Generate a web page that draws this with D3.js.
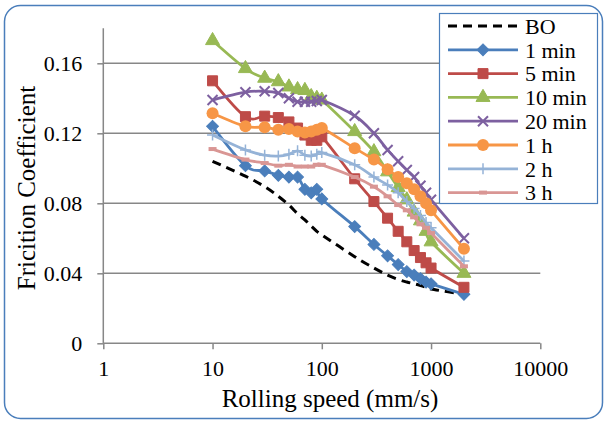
<!DOCTYPE html>
<html>
<head>
<meta charset="utf-8">
<script src="https://cdn.jsdelivr.net/npm/d3@7"></script>
<style>
  html, body { margin: 0; padding: 0; background: #fff; }
  svg { display: block; }
  text { font-family: "Liberation Serif", "Times New Roman", serif; fill: #000; }
</style>
</head>
<body>
<svg id="chart" width="606" height="423"></svg>
<script>
// ---------- data ----------
const speeds = [10,20,30,40,50,60,70,80,90,100,200,300,400,500,600,700,800,900,1000,2000];
const bo    = [0.104,0.0955,0.0895,0.084,0.079,0.074,0.0705,0.067,0.064,0.062,0.0495,0.043,0.039,0.0365,0.035,0.034,0.033,0.032,0.031,0.028];
const min1  = [0.124,0.1015,0.0985,0.096,0.095,0.095,0.088,0.086,0.088,0.0825,0.0667,0.0565,0.050,0.045,0.041,0.039,0.037,0.035,0.034,0.028];
const min5  = [0.150,0.1295,0.1298,0.129,0.1265,0.123,0.119,0.116,0.116,0.118,0.094,0.081,0.0715,0.064,0.058,0.053,0.049,0.046,0.043,0.032];
const min10 = [0.173,0.157,0.1515,0.1495,0.1465,0.145,0.1445,0.141,0.140,0.139,0.121,0.1095,0.098,0.089,0.082,0.075,0.070,0.064,0.058,0.040];
const min20 = [0.139,0.1435,0.144,0.143,0.140,0.138,0.138,0.138,0.1385,0.139,0.130,0.120,0.1105,0.104,0.099,0.095,0.090,0.086,0.082,0.060];
const h1    = [0.1315,0.124,0.1235,0.122,0.1225,0.121,0.1205,0.121,0.122,0.123,0.1115,0.105,0.0995,0.095,0.0915,0.088,0.084,0.080,0.076,0.054];
const h2    = [0.119,0.1105,0.1075,0.107,0.108,0.110,0.1075,0.107,0.108,0.109,0.102,0.095,0.0905,0.086,0.081,0.077,0.073,0.069,0.066,0.047];
const h3    = [0.111,0.105,0.103,0.1015,0.102,0.101,0.101,0.101,0.102,0.102,0.095,0.0895,0.084,0.079,0.076,0.072,0.068,0.066,0.063,0.044];

const seriesNames  = ["BO","1 min","5 min","10 min","20 min","1 h","2 h","3 h"];
const seriesValues = [bo, min1, min5, min10, min20, h1, h2, h3];
const seriesColors = ["#000000","#4A7EBB","#BE4B48","#98B954","#7D60A0","#F79646","#95B3D7","#D99694"];
const seriesMarkers = ["none","diamond","square","triangle","x","circle","plus","dash"];

const xTicks = [1,10,100,1000,10000];
const yTicks = [0,0.04,0.08,0.12,0.16];

// ---------- layout ----------
const svg = d3.select("#chart");
const pLeft = 103.3, pRight = 540.3, pTop = 28.3, pBottom = 343.3;

const x = d3.scaleLog().domain([1,10000]).range([pLeft,pRight]);
const y = d3.scaleLinear().domain([0,0.18]).range([pBottom,pTop]);

// outer border
svg.append("rect")
  .attr("x",4.5).attr("y",5.5).attr("width",598).attr("height",413)
  .attr("rx",16).attr("ry",16)
  .attr("fill","#fff").attr("stroke","#4A7EBB").attr("stroke-width",1.5);

// gridlines
svg.append("g").selectAll("line")
  .data(yTicks.filter(d=>d>0)).join("line")
  .attr("x1",pLeft).attr("x2",pRight)
  .attr("y1",d=>y(d)).attr("y2",d=>y(d))
  .attr("stroke","#878787").attr("stroke-width",1.5);

// axes
const gx = svg.append("g").attr("transform",`translate(0,${pBottom})`)
  .call(d3.axisBottom(x).tickValues(xTicks).tickFormat(d3.format("d")).tickSize(6).tickPadding(10));
const gy = svg.append("g").attr("transform",`translate(${pLeft},0)`)
  .call(d3.axisLeft(y).tickValues(yTicks).tickFormat(d=> d===0 ? "0" : d3.format(".2f")(d)).tickSize(6).tickPadding(15));
[gx,gy].forEach(g=>{
  g.select(".domain").attr("stroke","#878787").attr("stroke-width",1.5);
  g.selectAll(".tick line").attr("stroke","#878787").attr("stroke-width",1.5);
  g.selectAll(".tick text").attr("font-family","Liberation Serif").attr("font-size",22).attr("fill","#000");
});
gx.selectAll(".tick text").attr("dy","0.75em");
gy.select(".domain").attr("d",`M-0,${pTop}V${pBottom}`);
gx.select(".domain").attr("d",`M${pLeft},0H${pRight}`);

// axis titles
svg.append("text").attr("x",330).attr("y",407).attr("text-anchor","middle")
  .attr("font-size",25).text("Rolling speed (mm/s)");
svg.append("text").attr("transform","translate(35,188) rotate(-90)").attr("text-anchor","middle")
  .attr("font-size",25).text("Fricition Coefficient");

// markers
function drawMarker(g, type, color, cx, cy) {
  if (type === "diamond") {
    g.append("path").attr("d", d3.symbol(d3.symbolSquare, 70)())
      .attr("transform",`translate(${cx},${cy}) rotate(45)`).attr("fill",color).attr("stroke",color).attr("stroke-width",1);
  } else if (type === "square") {
    g.append("path").attr("d", d3.symbol(d3.symbolSquare, 100)())
      .attr("transform",`translate(${cx},${cy})`).attr("fill",color).attr("stroke",color).attr("stroke-width",1);
  } else if (type === "triangle") {
    g.append("path").attr("d", d3.symbol(d3.symbolTriangle, 85)())
      .attr("transform",`translate(${cx},${cy})`).attr("fill",color).attr("stroke",color).attr("stroke-width",1);
  } else if (type === "circle") {
    g.append("circle").attr("cx",cx).attr("cy",cy).attr("r",6).attr("fill",color);
  } else if (type === "x") {
    g.append("path").attr("d",`M${cx-5},${cy-5}L${cx+5},${cy+5}M${cx-5},${cy+5}L${cx+5},${cy-5}`)
      .attr("stroke",color).attr("stroke-width",2).attr("fill","none");
  } else if (type === "plus") {
    g.append("path").attr("d",`M${cx-5.5},${cy}L${cx+5.5},${cy}M${cx},${cy-5.5}L${cx},${cy+5.5}`)
      .attr("stroke",color).attr("stroke-width",1.5).attr("fill","none");
  } else if (type === "dash") {
    g.append("rect").attr("x",cx-4).attr("y",cy-2).attr("width",8).attr("height",4).attr("fill",color);
  }
}

const line = d3.line().x(d=>x(d[0])).y(d=>y(d[1])).curve(d3.curveCardinal.tension(0));

const plot = svg.append("g");
seriesValues.forEach((vals,i)=>{
  const pts = speeds.map((s,j)=>[s,vals[j]]);
  const g = plot.append("g");
  g.append("path").attr("d",line(pts)).attr("fill","none")
    .attr("stroke",seriesColors[i]).attr("stroke-width",i===0?3:2.8)
    .attr("stroke-dasharray", i===0 ? "9,6" : null);
  pts.forEach(p=> drawMarker(g, seriesMarkers[i], seriesColors[i], x(p[0]), y(p[1])));
});

// legend
const lg = svg.append("g");
lg.append("rect").attr("x",439.5).attr("y",13.5).attr("width",158).attr("height",190)
  .attr("fill","#fff").attr("stroke","#4A7EBB").attr("stroke-width",1.2);
seriesNames.forEach((name,i)=>{
  const cy = 26 + i*23.8;
  lg.append("line").attr("x1",448).attr("x2",518).attr("y1",cy).attr("y2",cy)
    .attr("stroke",seriesColors[i]).attr("stroke-width",i===0?3:2.8)
    .attr("stroke-dasharray", i===0 ? "9,6" : null);
  drawMarker(lg, seriesMarkers[i], seriesColors[i], 483, cy);
  lg.append("text").attr("x",525).attr("y",cy).attr("dy","0.35em")
    .attr("font-size",22).text(name);
});
</script>
</body>
</html>
